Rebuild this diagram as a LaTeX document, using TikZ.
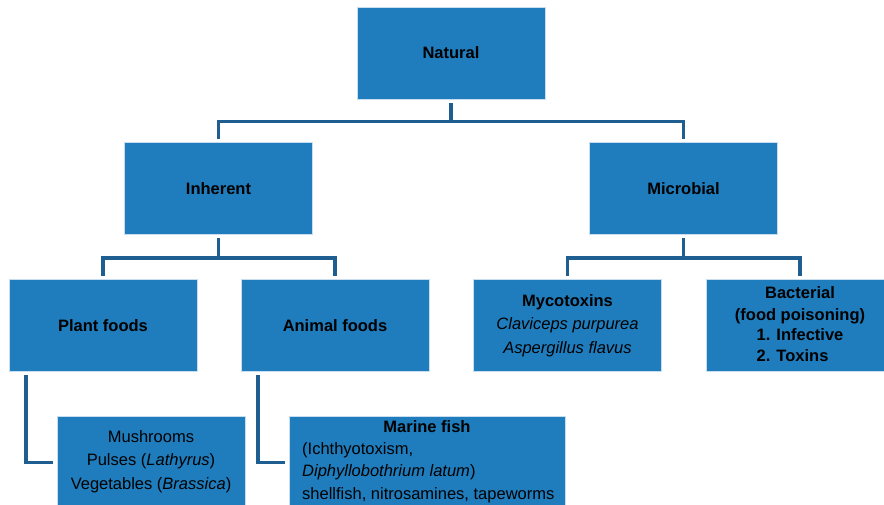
\documentclass[tikz,border=0pt]{standalone}
\usepackage{fontspec}
\setmainfont{Liberation Sans}
\definecolor{boxblue}{RGB}{31,125,189}
\definecolor{linkblue}{RGB}{30,94,145}
\definecolor{rimblue}{RGB}{200,222,240}

\begin{document}
\begin{tikzpicture}[x=1pt,y=-1pt,
  box/.style={draw=rimblue, line width=0.8pt, fill=boxblue,
    minimum width=188pt, minimum height=92pt, inner sep=0pt,
    align=center, text=black, font=\fontsize{16.5}{23.5}\selectfont},
  boldbox/.style={box, font=\fontsize{16.5}{23.5}\selectfont\bfseries},
  txt/.style={inner sep=0pt, text=black, font=\fontsize{16.5}{23.5}\selectfont},
  link/.style={draw=linkblue, line width=3.5pt,
    shorten <=3.5pt, shorten >=3.5pt}]
\useasboundingbox (0,0) rectangle (884,505);
\clip (0,0) rectangle (884,505);

% top level
\node[boldbox] (nat) at (451,53) {Natural};

% second level
\node[boldbox] (inh) at (218.5,188.5) {Inherent};
\node[boldbox] (mic) at (683.5,188.5) {Microbial};

% third level
\node[boldbox] (plant)  at (103,325.5)   {Plant foods};
\node[boldbox] (animal) at (335,325.5)   {Animal foods};
\node[box]     (myco)   at (567.5,325.5)
  {\textbf{Mycotoxins}\\\textit{Claviceps purpurea}\\\textit{Aspergillus flavus}};
\node[boldbox] (bact) at (800,325.5) {};
\node[txt, align=center, font=\fontsize{16.5}{22}\selectfont\bfseries] (bacttxt) at (800,327)
  {Bacterial\\(food poisoning)\\
   \begin{tabular}{@{}l@{}}1. Infective\\[-1pt]2. Toxins\end{tabular}};

% examples
\node[box, anchor=north] (mush) at (151,416) {};
\node[txt, align=center] (mushtxt) at (151,461.5)
  {Mushrooms\\Pulses (\textit{Lathyrus})\\Vegetables (\textit{Brassica})};

\node[box, anchor=north, minimum width=276pt] (marine) at (427,416) {};
\node[txt, font=\fontsize{16.5}{22.5}\selectfont\bfseries] (marinetitle) at (427,427) {Marine fish};
\node[txt, align=left, anchor=west, font=\fontsize{16.5}{22.5}\selectfont] (marinetxt) at (302,472.5)
  {(Ichthyotoxism,\\\textit{Diphyllobothrium latum})\\shellfish, nitrosamines, tapeworms};

% connectors
\draw[link] (nat.south) -- ++(0,22) -| (inh.north);
\draw[link] (nat.south) -- ++(0,22) -| (mic.north);
\draw[link] (inh.south) -- ++(0,23) -| (plant.north);
\draw[link] (inh.south) -- ++(0,23) -| (animal.north);
\draw[link] (mic.south) -- ++(0,23) -| (myco.north);
\draw[link] (mic.south) -- ++(0,23) -| (bact.north);
\draw[link] ([xshift=-77pt]plant.south) |- (mush.west);
\draw[link] ([xshift=-77pt]animal.south) |- (marine.west);
\end{tikzpicture}
\end{document}
